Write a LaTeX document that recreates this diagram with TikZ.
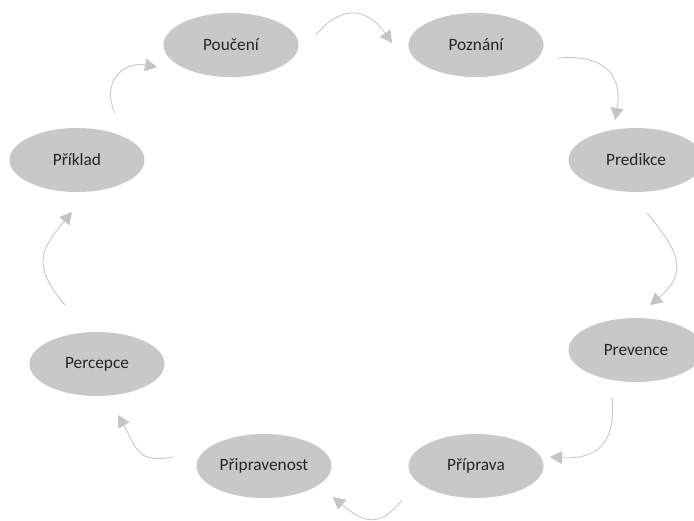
\documentclass[tikz,border=0pt]{standalone}
\usepackage{fontspec}
\setmainfont{Carlito}
\usetikzlibrary{shapes.geometric,arrows.meta,calc}
\definecolor{stagegray}{RGB}{200,200,200}
\definecolor{flowgray}{RGB}{196,196,196}

\begin{document}
\begin{tikzpicture}[x=0.025cm,y=0.025cm,
  stage/.style={ellipse,fill=stagegray,minimum width=3.375cm,minimum height=1.6cm,
    font=\fontsize{12.3}{14}\selectfont,text=black!85},
  flow/.style={draw=flowgray,line width=0.6pt,looseness=1.4,-{Triangle[length=3mm,width=3.2mm]}}]
\tikzstyle{every node}+=[inner sep=0pt]
\useasboundingbox (0,0) rectangle (694,-520);
\node [stage] (poucen) at (231,-45) {Poučení};
\node [stage] (poznani) at (476,-45) {Poznání};
\node [stage] (predikce) at (636,-160) {Predikce};
\node [stage] (prevence) at (636,-350) {Prevence};
\node [stage] (priprava) at (476,-466) {Příprava};
\node [stage] (pripravenost) at (264,-466) {Připravenost};
\node [stage] (percepce) at (97,-364) {Percepce};
\node [stage] (priklad) at (77,-160) {Příklad};
\draw [flow] ($(poucen)+(85,10)$) to[out=50,in=125] ($(poznani)+(-84,2)$);
\draw [flow] ($(poznani)+(82,-13)$) to[out=5,in=80] ($(predikce)+(-21,40)$);
\draw [flow] ($(predikce)+(11,-53)$) to[out=-50,in=40] ($(prevence)+(14,45)$);
\draw [flow] ($(prevence)+(-24,-47)$) to[out=-85,in=-3] ($(priprava)+(74,9)$);
\draw [flow] ($(priprava)+(-74,-34)$) to[out=-128,in=-40] ($(pripravenost)+(69,-31)$);
\draw [flow] ($(pripravenost)+(-91,9)$) to[out=190,in=-60] ($(percepce)+(21,-51)$);
\draw [flow] ($(percepce)+(-32,59)$) to[out=130,in=-130] ($(priklad)+(-5,-52)$);
\draw [flow] ($(priklad)+(38,47)$) to[out=115,in=170] ($(poucen)+(-74,-22)$);
\end{tikzpicture}
\end{document}
